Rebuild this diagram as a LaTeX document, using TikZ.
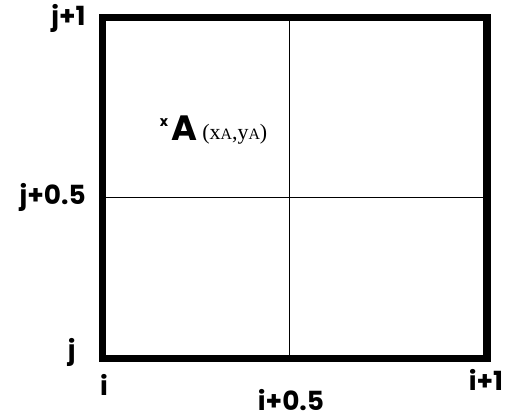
\documentclass[tikz,border=0pt]{standalone}
\usepackage{fontspec}
\usepackage{tikz}
\usetikzlibrary{positioning,calc}
\newfontfamily\labelfont{Poppins}
\newfontfamily\coordfont{Liberation Serif}

\begin{document}
\begin{tikzpicture}[
  frame/.style={draw, line width=4pt, line join=miter},
  half/.style={draw, line width=0.5pt},
  idx/.style={inner sep=0pt, font=\labelfont\bfseries\fontsize{15}{18}\selectfont},
]
  \useasboundingbox (0,0) rectangle (10.18,8.36);
  % cell corners and midpoints
  \coordinate (sw) at (2.05,1.19);
  \coordinate (ne) at (9.74,8.01);
  \coordinate (midB) at (5.78,1.19);
  \coordinate (midT) at (5.78,8.01);
  \coordinate (midL) at (2.05,4.42);
  \coordinate (midR) at (9.74,4.42);

  \draw[half] (midB) -- (midT);
  \draw[half] (midL) -- (midR);
  \draw[frame] (sw) rectangle (ne);

  \node[idx, anchor=east] (jtop) at (1.72,8.00) {j+1};
  \node[idx, anchor=east] (jmid) at (1.72,4.42) {j+0.5};
  \node[idx, anchor=east] (jbot) at (1.52,1.32) {j};
  \node[idx] (ileft) at (2.08,0.66) {i};
  \node[idx] (imid) at (5.82,0.36) {i+0.5};
  \node[idx] (iright) at (9.72,0.76) {i+1};

  % point A
  \node[inner sep=0pt, font=\labelfont\bfseries\fontsize{8}{9}\selectfont] (mark) at (3.28,5.90) {x};
  \node[inner sep=0pt, font=\labelfont\bfseries\fontsize{20}{22}\selectfont, anchor=west] (ptA) at (3.42,5.80) {A};
  \node[inner sep=0pt, font=\coordfont\fontsize{12.5}{14}\selectfont, anchor=west] (ptAxy) at (4.04,5.68) {(x{\fontsize{9}{10}\selectfont A},y{\fontsize{9}{10}\selectfont A})};
\end{tikzpicture}
\end{document}
